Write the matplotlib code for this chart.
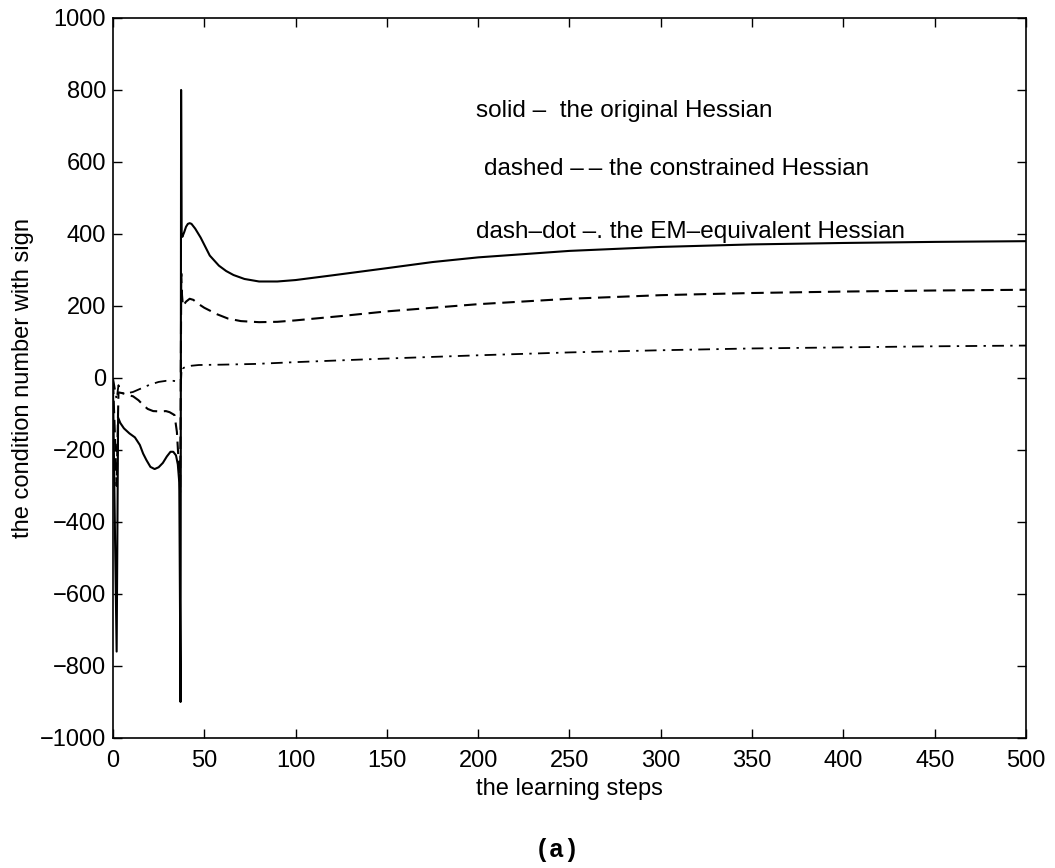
import numpy as np
import matplotlib
matplotlib.use('Agg')
import matplotlib.pyplot as plt

# curves
x_solid = [0, 1, 2, 2.8, 4, 6, 9, 12, 14.7, 16.5, 18.3, 20.5, 22.8, 25, 27.3, 29.5, 31.5, 33, 34.5,
           35.5, 36.3, 37.0, 37.3, 37.6, 38, 39, 40, 41, 42, 43, 45, 48, 53, 58, 62, 66, 72, 80,
           90, 100, 120, 150, 175, 200, 250, 300, 350, 400, 450, 500]
y_solid = [-20, -400, -760, -110, -125, -140, -154, -165, -186, -210, -228, -247, -253, -248, -236, -218, -205, -205, -215,
           -240, -290, -900, 800, 400, 392, 405, 420, 428, 430, 428, 415, 390, 340, 312, 297, 286, 275, 268,
           268, 272, 285, 305, 322, 335, 353, 364, 371, 375, 378, 380]

x_dashed = [0, 1, 2, 3, 5, 8, 11, 14, 16.5, 19, 22, 26, 29, 31, 33.7, 35, 35.8, 36.8,
            37.4, 37.8, 38.3, 40, 42, 44, 47, 50, 57, 63, 70, 80, 90,
            100, 125, 150, 200, 250, 300, 350, 400, 450, 500]
y_dashed = [-10, -150, -300, -40, -42, -47, -51, -62, -75, -86, -92, -93, -92, -95, -103, -150, -220, -320,
            290, 230, 200, 212, 220, 217, 205, 195, 177, 165, 158, 155, 156,
            160, 172, 185, 205, 220, 230, 236, 240, 243, 245]

x_dashdot = [0, 1, 2, 3, 4.7, 7, 10.9, 15, 20, 25, 29, 33, 36.4, 37.2, 37.6, 38.2, 40, 43, 47, 60,
             78, 100, 150, 200, 250, 300, 350, 400, 450, 500]
y_dashdot = [0, -30, -60, -20, -42, -43, -39, -30, -19, -11, -8, -8, -10, -15, 30, 27, 31, 34, 36, 37,
             39, 44, 54, 63, 71, 77, 82, 85, 88, 90]

legend_lines = ['solid \u2013  the original Hessian',
                'dashed \u2013\u2009\u2013 the constrained Hessian',
                'dash\u2013dot \u2013. the EM\u2013equivalent Hessian']
legend_x = [199, 203, 199]
legend_y = [741, 580, 405]

#===============================   PLOT   =====================================
plt.rc('font', family='Liberation Sans', size=17)

fig = plt.figure(figsize=(10.55, 8.68), dpi=100)
ax = fig.add_axes([0.1071, 0.1498, 0.8654, 0.8295])

ax.plot(x_solid, y_solid, color='black', lw=1.5, ls='-')
ax.plot(x_dashed, y_dashed, color='black', lw=1.5, ls=(0, (6, 3.2)))
ax.plot(x_dashdot, y_dashdot, color='black', lw=1.3, ls=(0, (6.5, 3.5, 1.3, 3.5)))

for t, tx, ty in zip(legend_lines, legend_x, legend_y):
    ax.text(tx, ty, t, ha='left', va='center', size=17.5)

ax.set_xlim(0, 500)
ax.set_ylim(-1000, 1000)
ax.set_xticks(np.arange(0, 501, 50))
ax.set_yticks(np.arange(-1000, 1001, 200))
ax.set_yticklabels(['\u22121000', '\u2212800', '\u2212600', '\u2212400', '\u2212200',
                    '0', '200', '400', '600', '800', '1000'])
ax.tick_params(direction='in', length=6.5, width=1, top=True, right=True)
ax.tick_params(axis='x', pad=9)
ax.tick_params(axis='y', pad=5)
for s in ax.spines.values():
    s.set_linewidth(1.2)

ax.set_xlabel('the learning steps', labelpad=4)
ax.set_ylabel('the condition number with sign', labelpad=4)

fig.text(0.528, 0.021, '(a)', family='Liberation Mono', weight='bold', size=18,
         ha='center', va='center')

fig.savefig('out.png', dpi=100)
